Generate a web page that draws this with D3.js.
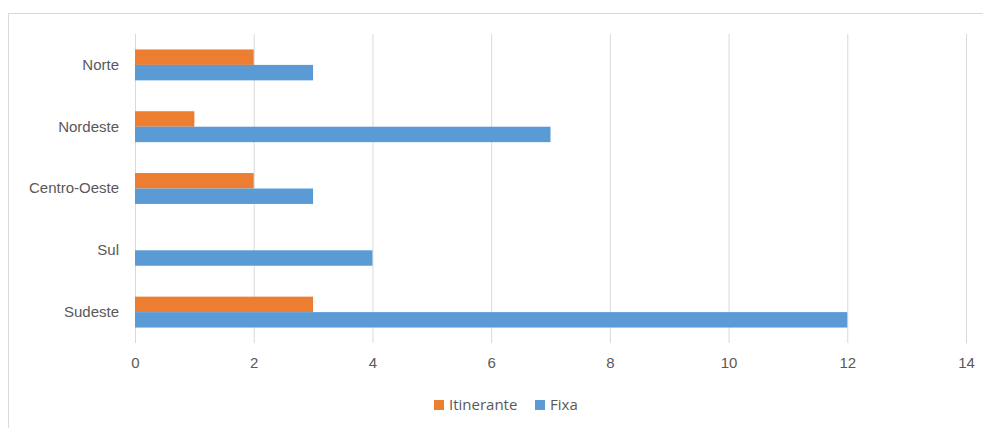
<!DOCTYPE html>
<html>
<head>
<meta charset="utf-8">
<script src="https://cdn.jsdelivr.net/npm/d3@7"></script>
<style>
	body { margin: 0; background: #fff; }
	svg { display: block; font-family: "Open Sans", sans-serif; }
</style>
</head>
<body>
<svg id="chart"></svg>
<script>
const categories = ["Norte", "Nordeste", "Centro-Oeste", "Sul", "Sudeste"];
const seriesNames = ["Itinerante", "Fixa"];
const itinerante = [2, 1, 2, 0, 3];
const fixa = [3, 7, 3, 4, 12];
const xTicks = [0, 2, 4, 6, 8, 10, 12, 14];
const colors = ["#ED7D31", "#5B9BD5"];

const width = 983;
const height = 428;
const margin = {top: 34, right: 17, bottom: 85, left: 135};

const rows = categories.map((c, i) => ({category: c, values: [itinerante[i], fixa[i]]}));

const svg = d3.select("#chart")
	.attr("width", width)
	.attr("height", height);

// chart area border (runs off the right and bottom edges)
svg.append("rect")
	.attr("x", 8.5)
	.attr("y", 13.5)
	.attr("width", 990)
	.attr("height", 430)
	.attr("fill", "none")
	.attr("stroke", "#D9D9D9");

const xScale = d3.scaleLinear()
	.domain([0, 14])
	.range([margin.left, width - margin.right]);

const yScale = d3.scaleBand()
	.domain(categories)
	.range([margin.top, height - margin.bottom])
	.paddingInner(0.5)
	.paddingOuter(0.25);

const inner = d3.scaleBand()
	.domain(seriesNames)
	.range([0, yScale.bandwidth()]);

const xAxis = d3.axisBottom(xScale)
	.tickValues(xTicks)
	.tickSize(-(height - margin.bottom - margin.top))
	.tickSizeOuter(0)
	.tickPadding(14);

svg.append("g")
	.attr("transform", `translate(0, ${height - margin.bottom})`)
	.call(xAxis)
	.call(g => g.select(".domain").remove())
	.call(g => g.selectAll("line").attr("stroke", "#D9D9D9"))
	.call(g => g.selectAll("text").attr("fill", "#595959").style("font-size", "15px"));

const yAxis = d3.axisLeft(yScale)
	.tickSize(0)
	.tickPadding(16);

svg.append("g")
	.attr("transform", `translate(${margin.left}, 0)`)
	.call(yAxis)
	.call(g => g.select(".domain").remove())
	.call(g => g.selectAll("text").attr("fill", "#595959").style("font-size", "15px"));

const groups = svg.selectAll(".group")
	.data(rows)
	.enter()
	.append("g")
		.attr("class", "group")
		.attr("transform", d => `translate(0, ${yScale(d.category)})`);

groups.selectAll("rect")
	.data(d => d.values.map((v, i) => ({name: seriesNames[i], value: v, i: i})))
	.enter()
	.append("rect")
		.attr("x", xScale(0))
		.attr("y", d => inner(d.name))
		.attr("width", d => xScale(d.value) - xScale(0))
		.attr("height", inner.bandwidth())
		.attr("fill", d => colors[d.i]);

// legend
const legend = svg.append("g")
	.attr("transform", "translate(434, 405)");

const legendX = [0, 101];
seriesNames.forEach((name, i) => {
	legend.append("rect")
		.attr("x", legendX[i])
		.attr("y", -5)
		.attr("width", 10)
		.attr("height", 10)
		.attr("fill", colors[i]);
	legend.append("text")
		.attr("x", legendX[i] + 15)
		.attr("y", 0)
		.attr("dy", "0.35em")
		.attr("fill", "#595959")
		.style("font-size", "15px")
		.text(name);
});
</script>
</body>
</html>
